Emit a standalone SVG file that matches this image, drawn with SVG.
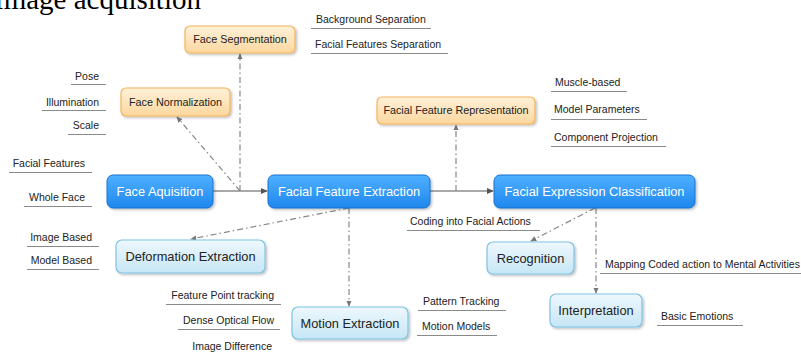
<svg xmlns="http://www.w3.org/2000/svg" width="801" height="352" viewBox="0 0 801 352">
<defs>
<linearGradient id="gOr" x1="0" y1="0" x2="0" y2="1"><stop offset="0" stop-color="#fff1d9"/><stop offset="1" stop-color="#fcd79e"/></linearGradient>
<linearGradient id="gBl" x1="0" y1="0" x2="0" y2="1"><stop offset="0" stop-color="#4fb0ff"/><stop offset="1" stop-color="#1f87ee"/></linearGradient>
<linearGradient id="gLb" x1="0" y1="0" x2="0" y2="1"><stop offset="0" stop-color="#eef8fd"/><stop offset="1" stop-color="#c6e6f5"/></linearGradient>
<filter id="sh" x="-10%" y="-20%" width="125%" height="160%"><feDropShadow dx="1.5" dy="1.5" stdDeviation="1.2" flood-color="#000" flood-opacity="0.25"/></filter>
<marker id="ar" viewBox="0 0 8 8" refX="7" refY="4" markerWidth="7" markerHeight="7" orient="auto" markerUnits="userSpaceOnUse"><path d="M0,0.5 L8,4 L0,7.5 z" fill="#555"/></marker>
<marker id="ad" viewBox="0 0 8 8" refX="7" refY="4" markerWidth="6" markerHeight="6" orient="auto" markerUnits="userSpaceOnUse"><path d="M0,0.5 L8,4 L0,7.5 z" fill="#777"/></marker>
</defs>
<style>
.or{fill:url(#gOr);stroke:#f4b35a;stroke-width:1.2;filter:url(#sh)}
.bl{fill:url(#gBl);stroke:#1a72d0;stroke-width:1;filter:url(#sh)}
.lb{fill:url(#gLb);stroke:#7ec3e3;stroke-width:1.2;filter:url(#sh)}
.tor{font-family:"Liberation Sans",Arial,sans-serif;font-size:10.8px;fill:#222;text-anchor:middle}
.tbl{font-family:"Liberation Sans",Arial,sans-serif;font-size:12.8px;fill:#fff;text-anchor:middle}
.tlb{font-family:"Liberation Sans",Arial,sans-serif;font-size:12.8px;fill:#222;text-anchor:middle}
.lab{font-family:"Liberation Sans",Arial,sans-serif;font-size:10.5px;fill:#222}
.e{text-anchor:end}
.ul{stroke:#8a8a8a;stroke-width:1;fill:none}
.sol{stroke:#555;stroke-width:1.2;fill:none;marker-end:url(#ar)}
.dd{stroke:#888;stroke-width:1.2;fill:none;stroke-dasharray:6 3 1.5 3;marker-end:url(#ad)}
.title{font-family:"Liberation Serif","Times New Roman",serif;font-size:29px;fill:#000}
</style>

<text class="title" x="-6" y="9">Image acquisition</text>

<g id="connectors">
<line class="sol" x1="213" y1="191" x2="267" y2="191"/>
<line class="sol" x1="430" y1="191" x2="493" y2="191"/>
<line class="dd" x1="240" y1="191" x2="240" y2="54"/>
<line class="dd" x1="240" y1="191" x2="177" y2="117"/>
<line class="dd" x1="456" y1="191" x2="456" y2="125"/>
<line class="dd" x1="349" y1="208" x2="191" y2="239"/>
<line class="dd" x1="349" y1="208" x2="349" y2="306"/>
<line class="dd" x1="595" y1="208" x2="531" y2="241"/>
<line class="dd" x1="596" y1="208" x2="596" y2="293"/>
</g>

<g id="face-segmentation"><rect class="or" x="185" y="26" width="110" height="27" rx="5"/><text class="tor" x="240" y="43">Face Segmentation</text></g>
<g id="face-normalization"><rect class="or" x="121" y="88" width="109" height="28" rx="5"/><text class="tor" x="175.5" y="106">Face Normalization</text></g>
<g id="facial-feature-representation"><rect class="or" x="377" y="97" width="158" height="27" rx="5"/><text class="tor" x="456" y="114">Facial Feature Representation</text></g>

<g id="face-aquisition"><rect class="bl" x="107" y="175" width="106" height="33" rx="6"/><text class="tbl" x="160" y="196">Face Aquisition</text></g>
<g id="facial-feature-extraction"><rect class="bl" x="268" y="175" width="162" height="33" rx="6"/><text class="tbl" x="349" y="196">Facial Feature Extraction</text></g>
<g id="facial-expression-classification"><rect class="bl" x="494" y="175" width="201" height="33" rx="6"/><text class="tbl" x="594.5" y="196">Facial Expression Classification</text></g>

<g id="deformation-extraction"><rect class="lb" x="116" y="240" width="149" height="33" rx="6"/><text class="tlb" x="190.5" y="261">Deformation Extraction</text></g>
<g id="motion-extraction"><rect class="lb" x="292" y="307" width="116" height="32" rx="6"/><text class="tlb" x="350" y="328">Motion Extraction</text></g>
<g id="recognition"><rect class="lb" x="487" y="242" width="87" height="32" rx="6"/><text class="tlb" x="530.5" y="263">Recognition</text></g>
<g id="interpretation"><rect class="lb" x="550" y="294" width="92" height="33" rx="6"/><text class="tlb" x="596" y="315">Interpretation</text></g>

<g id="labels">
<text class="lab e" x="99" y="80">Pose</text><line class="ul" x1="71" y1="84.5" x2="106" y2="84.5"/>
<text class="lab e" x="99" y="106">Illumination</text><line class="ul" x1="42" y1="110.5" x2="106" y2="110.5"/>
<text class="lab e" x="99" y="129">Scale</text><line class="ul" x1="68" y1="134.5" x2="106" y2="134.5"/>
<text class="lab e" x="85" y="167">Facial Features</text><line class="ul" x1="9" y1="172.5" x2="92" y2="172.5"/>
<text class="lab e" x="85" y="201">Whole Face</text><line class="ul" x1="24" y1="206.5" x2="92" y2="206.5"/>
<text class="lab e" x="92" y="241">Image Based</text><line class="ul" x1="27" y1="246.5" x2="99" y2="246.5"/>
<text class="lab e" x="92" y="264">Model Based</text><line class="ul" x1="27" y1="269.5" x2="99" y2="269.5"/>
<text class="lab e" x="274" y="299">Feature Point tracking</text><line class="ul" x1="166" y1="304.5" x2="281" y2="304.5"/>
<text class="lab e" x="274" y="324">Dense Optical Flow</text><line class="ul" x1="178" y1="329.5" x2="280" y2="329.5"/>
<text class="lab e" x="272" y="350">Image Difference</text>
<text class="lab" x="423" y="305">Pattern Tracking</text><line class="ul" x1="418" y1="310.5" x2="506" y2="310.5"/>
<text class="lab" x="422" y="330">Motion Models</text><line class="ul" x1="417" y1="335.5" x2="497" y2="335.5"/>
<text class="lab" x="661" y="320">Basic Emotions</text><line class="ul" x1="657" y1="325.5" x2="743" y2="325.5"/>
<text class="lab" x="605" y="268">Mapping Coded action to Mental Activities</text><line class="ul" x1="600" y1="273.5" x2="801" y2="273.5"/>
<text class="lab" x="410" y="225">Coding into Facial Actions</text><line class="ul" x1="407" y1="230.5" x2="540" y2="230.5"/>
<text class="lab" x="316" y="23">Background Separation</text><line class="ul" x1="311" y1="28.5" x2="431" y2="28.5"/>
<text class="lab" x="315" y="48">Facial Features Separation</text><line class="ul" x1="311" y1="53.5" x2="448" y2="53.5"/>
<text class="lab" x="555" y="86">Muscle-based</text><line class="ul" x1="551" y1="91.5" x2="627" y2="91.5"/>
<text class="lab" x="554" y="113">Model Parameters</text><line class="ul" x1="551" y1="119.5" x2="647" y2="119.5"/>
<text class="lab" x="554" y="141">Component Projection</text><line class="ul" x1="551" y1="146.5" x2="666" y2="146.5"/>
</g>
</svg>
